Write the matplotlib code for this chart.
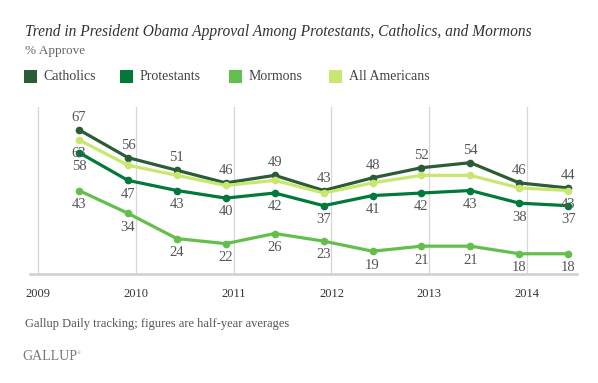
import matplotlib
matplotlib.use("Agg")
import matplotlib.pyplot as plt
from matplotlib.patches import Rectangle

# half-year periods, first half 2009 .. first half 2014
periods = [2009.42, 2009.92, 2010.42, 2010.92, 2011.42, 2011.92,
           2012.42, 2012.92, 2013.42, 2013.92, 2014.42]
catholics = [67, 56, 51, 46, 49, 43, 48, 52, 54, 46, 44]
protestants = [58, 47, 43, 40, 42, 37, 41, 42, 43, 38, 37]
mormons = [43, 34, 24, 22, 26, 23, 19, 21, 21, 18, 18]
all_americans = [63, 53, 49, 45, 47, 42, 46, 49, 49, 44, 43]
years = [2009, 2010, 2011, 2012, 2013, 2014]

series = [
    ("Catholics", catholics, "#2a5c36", "above", "all"),
    ("Protestants", protestants, "#00793a", "below", "all"),
    ("Mormons", mormons, "#62bf4c", "below", "all"),
    ("All Americans", all_americans, "#c9e670", "below", "ends"),
]

serif = ["Liberation Serif", "DejaVu Serif"]
plt.rcParams["font.family"] = serif

fig = plt.figure(figsize=(5.98, 3.83), dpi=100)
ax = fig.add_axes([0.050, 0.2846, 0.915, 0.436])
ax.set_xlim(2008.918, 2014.51)
ax.set_ylim(10, 76)

for y in years:
    ax.axvline(y, color="#d6d6d6", lw=0.9, zorder=0)

for name, vals, col, pos, which in series:
    ax.plot(periods, vals, color=col, lw=2.3, marker="o", ms=4.5,
            solid_capstyle="round", zorder=3)
    idx = range(len(vals)) if which == "all" else [0, len(vals) - 1]
    for i in idx:
        dy = 9 if pos == "above" else -10
        ax.annotate(str(vals[i]), (periods[i], vals[i]), xytext=(0, dy),
                    textcoords="offset points", ha="center", va="center",
                    fontsize=10.5, color="#555555", zorder=5)

for s in ["top", "right", "left"]:
    ax.spines[s].set_visible(False)
ax.spines["bottom"].set_color("#cfcfcf")
ax.spines["bottom"].set_linewidth(1.8)
ax.set_yticks([])
ax.set_xticks(years)
ax.set_xticklabels([str(y) for y in years])
ax.tick_params(axis="x", length=0, pad=10, labelsize=9, labelcolor="#333333")

fig.text(0.042, 0.916, "Trend in President Obama Approval Among Protestants, Catholics, and Mormons",
         fontsize=11.2, style="italic", color="#333333", va="center")
fig.text(0.042, 0.866, "% Approve", fontsize=9.5, color="#666666", va="center")

leg_x = [0.040, 0.201, 0.383, 0.551]
for (name, vals, col, pos, which), lx in zip(series, leg_x):
    fig.patches.append(Rectangle((lx, 0.783), 0.0217, 0.034, transform=fig.transFigure,
                                 facecolor=col, edgecolor="none"))
    fig.text(lx + 0.033, 0.800, name, fontsize=10, color="#444444", va="center")

fig.text(0.042, 0.154, "Gallup Daily tracking; figures are half-year averages",
         fontsize=9, color="#555555", va="center")
fig.text(0.037, 0.068, "GALLUP", fontsize=10, color="#777777", va="center")
fig.text(0.128, 0.078, "\u00ae", fontsize=3.5, color="#777777", va="center")

fig.savefig("out.png", dpi=100, facecolor="white")
